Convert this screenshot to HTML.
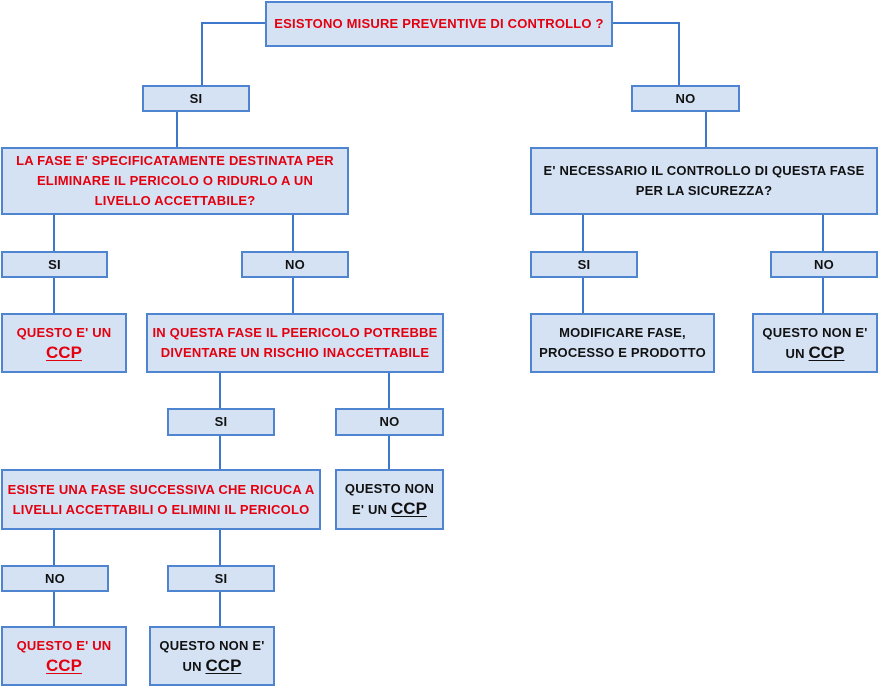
<!DOCTYPE html>
<html><head><meta charset="utf-8"><style>
body{margin:0;width:878px;height:687px;background:#fff;position:relative;overflow:hidden;font-family:"Liberation Sans",sans-serif;}
.b{position:absolute;box-sizing:border-box;background:#d5e2f4;border:2px solid #4f84d1;display:flex;align-items:center;justify-content:center;text-align:center;font-weight:bold;font-size:13px;letter-spacing:0.2px;line-height:20px;color:#111;white-space:nowrap;}
.r{color:#e3000f;}
.c{font-size:17px;letter-spacing:0;text-decoration:underline;text-underline-offset:2px;}
.v{position:absolute;width:2px;background:#3d78cc;}
.h{position:absolute;height:2px;background:#3d78cc;}
</style></head><body>
<div class="h" style="left:202px;top:22px;width:64px"></div>
<div class="v" style="left:201px;top:22px;height:64px"></div>
<div class="h" style="left:611px;top:22px;width:69px"></div>
<div class="v" style="left:678px;top:22px;height:64px"></div>
<div class="v" style="left:176px;top:110px;height:38px"></div>
<div class="v" style="left:705px;top:110px;height:38px"></div>
<div class="v" style="left:53px;top:213px;height:39px"></div>
<div class="v" style="left:292px;top:213px;height:39px"></div>
<div class="v" style="left:582px;top:213px;height:39px"></div>
<div class="v" style="left:822px;top:213px;height:39px"></div>
<div class="v" style="left:53px;top:276px;height:38px"></div>
<div class="v" style="left:292px;top:276px;height:38px"></div>
<div class="v" style="left:582px;top:276px;height:38px"></div>
<div class="v" style="left:822px;top:276px;height:38px"></div>
<div class="v" style="left:219px;top:371px;height:38px"></div>
<div class="v" style="left:388px;top:371px;height:38px"></div>
<div class="v" style="left:219px;top:434px;height:36px"></div>
<div class="v" style="left:388px;top:434px;height:36px"></div>
<div class="v" style="left:53px;top:528px;height:38px"></div>
<div class="v" style="left:219px;top:528px;height:38px"></div>
<div class="v" style="left:53px;top:590px;height:37px"></div>
<div class="v" style="left:219px;top:590px;height:37px"></div>
<div class="b r" style="left:265px;top:1px;width:348px;height:46px">ESISTONO MISURE PREVENTIVE DI CONTROLLO ?</div>
<div class="b" style="left:142px;top:85px;width:108px;height:27px">SI</div>
<div class="b" style="left:631px;top:85px;width:109px;height:27px">NO</div>
<div class="b r" style="left:1px;top:147px;width:348px;height:68px">LA FASE E' SPECIFICATAMENTE DESTINATA PER<br>ELIMINARE IL PERICOLO O RIDURLO A UN<br>LIVELLO ACCETTABILE?</div>
<div class="b" style="left:530px;top:147px;width:348px;height:68px">E' NECESSARIO IL CONTROLLO DI QUESTA FASE<br>PER LA SICUREZZA?</div>
<div class="b" style="left:1px;top:251px;width:107px;height:27px">SI</div>
<div class="b" style="left:241px;top:251px;width:108px;height:27px">NO</div>
<div class="b" style="left:530px;top:251px;width:108px;height:27px">SI</div>
<div class="b" style="left:770px;top:251px;width:108px;height:27px">NO</div>
<div class="b r" style="left:1px;top:313px;width:126px;height:60px"><div>QUESTO E' UN<br><span class="c">CCP</span></div></div>
<div class="b r" style="left:146px;top:313px;width:298px;height:60px">IN QUESTA FASE IL PEERICOLO POTREBBE<br>DIVENTARE UN RISCHIO INACCETTABILE</div>
<div class="b" style="left:530px;top:313px;width:185px;height:60px">MODIFICARE FASE,<br>PROCESSO E PRODOTTO</div>
<div class="b" style="left:752px;top:313px;width:126px;height:60px"><div>QUESTO NON E'<br>UN <span class="c">CCP</span></div></div>
<div class="b" style="left:167px;top:408px;width:108px;height:28px">SI</div>
<div class="b" style="left:335px;top:408px;width:109px;height:28px">NO</div>
<div class="b r" style="left:1px;top:469px;width:320px;height:61px">ESISTE UNA FASE SUCCESSIVA CHE RICUCA A<br>LIVELLI ACCETTABILI O ELIMINI IL PERICOLO</div>
<div class="b" style="left:335px;top:469px;width:109px;height:61px"><div>QUESTO NON<br>E' UN <span class="c">CCP</span></div></div>
<div class="b" style="left:1px;top:565px;width:108px;height:27px">NO</div>
<div class="b" style="left:167px;top:565px;width:108px;height:27px">SI</div>
<div class="b r" style="left:1px;top:626px;width:126px;height:60px"><div>QUESTO E' UN<br><span class="c">CCP</span></div></div>
<div class="b" style="left:149px;top:626px;width:126px;height:60px"><div>QUESTO NON E'<br>UN <span class="c">CCP</span></div></div>
</body></html>
